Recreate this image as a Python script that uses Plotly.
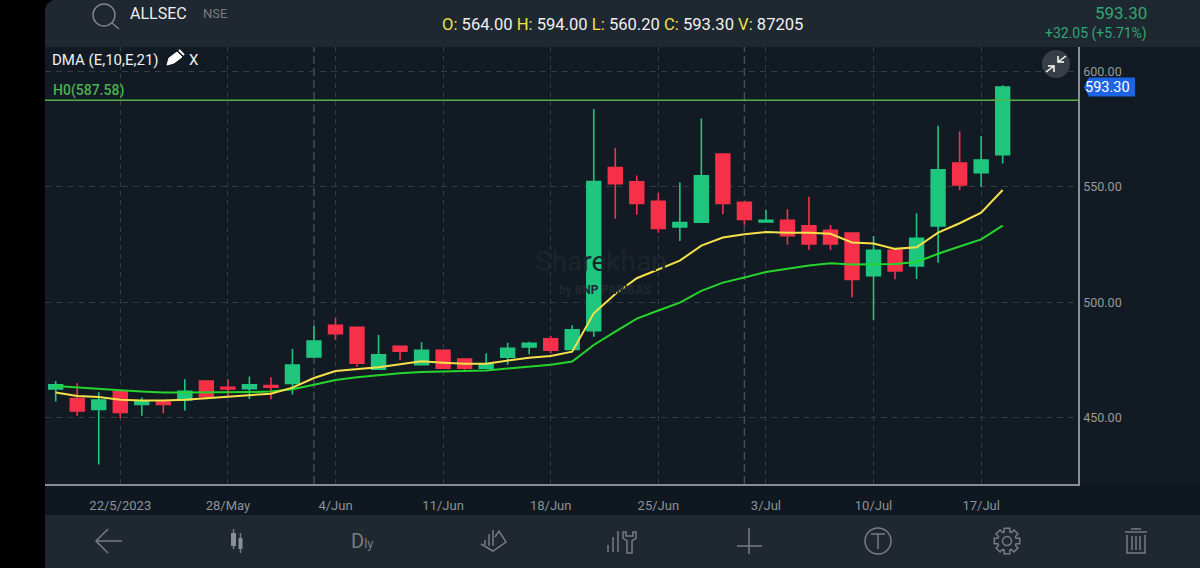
import math
import plotly.graph_objects as go

# ---------- data ----------
sessions = list(range(45))
opens = [462.6,458.4,453.7,461.3,455.8,456.9,457.8,466.0,463.3,462.7,464.0,464.9,476.4,490.1,489.2,471.1,481.0,473.0,479.3,475.5,
         471.5,476.3,480.7,484.3,479.6,487.8,558.4,552.2,543.8,532.7,534.7,564.3,543.4,534.9,535.6,533.2,531.2,530.1,511.6,522.6,
         515.8,533.1,560.4,556.2,564.0]
highs = [466.0,465.0,461.1,461.6,458.8,457.8,466.7,466.0,466.7,467.9,467.6,479.9,489.8,493.4,489.2,485.9,481.0,482.8,479.3,475.5,
         478.0,482.6,483.0,485.5,490.1,583.8,567.0,555.0,547.4,551.9,579.6,564.3,543.4,540.0,540.3,545.8,533.5,530.3,528.8,523.4,
         538.6,576.5,574.0,572.1,594.0]
lows = [457.1,451.0,429.8,449.9,451.0,452.0,453.2,458.1,459.2,458.2,458.1,460.2,476.0,483.9,472.2,471.1,475.0,473.0,471.5,470.5,
        471.5,473.0,477.6,478.0,479.6,485.2,536.2,538.0,530.2,526.6,534.7,538.2,533.6,534.9,525.0,522.7,522.7,502.2,492.4,510.0,
        510.2,517.2,548.6,550.1,560.2]
closes = [464.3,453.0,457.8,452.4,457.1,455.8,461.5,459.2,462.6,464.4,463.3,472.9,483.3,486.5,473.7,477.3,478.9,479.3,471.5,471.5,
          473.2,480.2,482.3,479.3,488.2,552.3,551.4,542.9,532.0,534.6,554.8,542.9,535.9,535.6,528.9,525.3,525.3,510.0,522.6,513.6,
          527.8,557.4,550.9,561.7,593.3]
ema_10 = [461.0,459.5,459.1,457.9,457.6,457.5,457.9,458.5,459.2,460.0,460.5,463.1,467.3,470.3,471.1,471.9,473.2,474.5,473.9,473.5,
          473.5,474.8,476.1,476.8,478.7,495.3,503.7,510.5,514.4,518.1,524.6,528.1,529.5,530.5,530.2,530.2,529.7,526.0,525.5,523.2,
          523.9,530.2,534.3,538.9,548.7]
ema_21 = [463.8,463.1,462.5,462.0,461.5,461.0,461.0,461.0,461.1,461.2,461.4,462.4,464.4,466.4,467.6,468.5,469.3,469.9,470.2,470.2,
          470.5,471.4,472.2,473.0,474.4,481.6,487.4,493.0,496.5,499.9,505.0,508.6,510.8,513.2,514.6,516.0,517.0,516.4,516.5,516.7,
          517.5,521.1,524.2,527.3,533.3]
date_ticks = [3, 8, 13, 18, 23, 28, 33, 38, 43]
date_labels = ["22/5/2023", "28/May", "4/Jun", "11/Jun", "18/Jun", "25/Jun", "3/Jul", "10/Jul", "17/Jul"]
month_starts = [12, 32]
price_ticks = [450, 500, 550, 600]
price_labels = ["450.00", "500.00", "550.00", "600.00"]
h0_level = 587.58
last_price = 593.30

# ---------- page geometry and colours ----------
W, H = 1200, 568
L, R, T, B = 45, 1078, 47, 484
BG = "#121b24"
BAR = "#1f2730"
GREY = "#8c9298"
ICON = "#767c83"
FONT = "Roboto"


def px(x):
    return (x - L) / (R - L)


def py(y):
    return (B - y) / (B - T)


def path(points, close=False):
    s = "M" + " L".join(f"{px(a):.5f},{py(b):.5f}" for a, b in points)
    return s + (" Z" if close else "")


shapes = []


def rect(x0, y0, x1, y1, fill, layer="below"):
    shapes.append(dict(type="rect", xref="paper", yref="paper", x0=px(x0), x1=px(x1), y0=py(y0), y1=py(y1),
                       fillcolor=fill, line=dict(width=0), layer=layer))


def poly(points, color=ICON, width=1.5, fill=None, close=False):
    shapes.append(dict(type="path", xref="paper", yref="paper", path=path(points, close),
                       line=dict(color=color, width=width), fillcolor=fill or "rgba(0,0,0,0)", layer="above"))


def circle(cx, cy, r, color=ICON, width=1.5, fill=None):
    shapes.append(dict(type="circle", xref="paper", yref="paper", x0=px(cx - r), x1=px(cx + r), y0=py(cy + r), y1=py(cy - r),
                       line=dict(color=color, width=width), fillcolor=fill or "rgba(0,0,0,0)", layer="above"))


# window chrome
rect(0, 0, L, H, "#000000", "above")
rect(L, 0, W, T, BAR, "above")
rect(R, T, W, 515, BG)
rect(L, 484, W, 515, "#0f1820", "below")
rect(L, 515, W, H, BAR, "above")
poly([(45, 0), (45, 9), (47, 4), (53, 0)], color="#000000", width=0, fill="#000000", close=True)

# month-start separators
for m in month_starts:
    shapes.append(dict(type="line", xref="x", yref="paper", x0=m, x1=m, y0=0, y1=1, layer="below",
                       line=dict(color="#454d53", width=1.5, dash="8px,4px")))
# horizontal level
shapes.append(dict(type="line", xref="paper", yref="y", x0=0, x1=1, y0=h0_level, y1=h0_level, layer="above",
                   line=dict(color="#55b04c", width=1.5)))
# last-price tag
tag_y = 87
poly([(1084, tag_y), (1089, tag_y - 9.5), (1135, tag_y - 9.5), (1135, tag_y + 9.5), (1089, tag_y + 9.5)],
     color="#1c64e4", width=0, fill="#1c64e4", close=True)

# search icon
circle(104, 15, 11, color="#7c8288")
poly([(112, 23), (119, 29)], color="#7c8288")
# pencil
poly([(167, 65), (169, 58), (177, 52), (182, 57), (174, 63)], color="#ffffff", width=1, fill="#ffffff", close=True)
poly([(179, 50), (184, 55)], color="#ffffff", width=2)
# collapse button
circle(1056, 64, 14, color="#383e45", width=0, fill="#383e45")
for pts in ([(1066, 56), (1058, 62)], [(1058, 56), (1058, 62), (1064, 62)],
            [(1046, 72), (1054, 66)], [(1048, 66), (1054, 66), (1054, 72)]):
    poly(pts, color="#ffffff", width=1.5)

# toolbar icons
poly([(122, 541), (96, 541)])
poly([(108, 529), (96, 541), (108, 553)])
poly([(233.5, 529), (233.5, 549)], width=1.5)
rect(231, 533, 236, 546, "#8a8f94", "above")
poly([(240.5, 533), (240.5, 553)], width=1.5)
rect(238.5, 538, 242.5, 549, "#8a8f94", "above")
# hand / chart icon
poly([(481, 544), (493, 551), (506, 542), (499, 531), (495, 537)])
for x, a, b in ((485, 540, 545), (489, 534, 546), (493, 530, 546)):
    poly([(x, a), (x, b)])
# bars and wrench
for x, a in ((608, 545), (613, 537), (618, 531)):
    poly([(x, a), (x, 552)])
poly([(623, 532), (623, 538), (627, 541), (627, 553), (632, 553), (632, 541), (636, 538), (636, 532), (633, 532), (633, 536), (626, 536), (626, 532)],
     close=True)
# plus
poly([(749, 528), (749, 554)])
poly([(737, 546), (762, 546)])
# T circle
circle(878, 541, 13)
poly([(871, 534), (885, 534)])
poly([(878, 534), (878, 549)])
# gear
gear = []
for i in range(8):
    a = i * math.pi / 4
    for da, r in ((-0.30, 9.5), (-0.22, 13), (0.22, 13), (0.30, 9.5)):
        gear.append((1007 + r * math.cos(a + da), 541 + r * math.sin(a + da)))
poly(gear, close=True)
circle(1007, 541, 4.5)
# trash
poly([(1125, 532), (1147, 532)])
poly([(1131, 529), (1141, 529)])
poly([(1127, 535), (1127, 553), (1145, 553), (1145, 535)])
for x in (1132, 1136, 1140):
    poly([(x, 536), (x, 550)])


def text(x, y, s, size, color, anchor="left", weight=None):
    d = dict(xref="paper", yref="paper", x=px(x), y=py(y), text=s, showarrow=False, xanchor=anchor, yanchor="middle",
             font=dict(family=FONT, size=size, color=color), align=anchor)
    if weight:
        d["font"]["weight"] = weight
    return d


YEL, WHT = "#f2e24c", "#f0f0f0"
ohlc_txt = (f"<span style='color:{YEL}'>O:</span> 564.00 <span style='color:{YEL}'>H:</span> 594.00 "
            f"<span style='color:{YEL}'>L:</span> 560.20 <span style='color:{YEL}'>C:</span> 593.30 "
            f"<span style='color:{YEL}'>V:</span> 87205")
annotations = [
    text(128, 13, "ALLSEC", 16, "#eeeeee"),
    text(201, 14, "NSE", 13, "#767c83"),
    text(622, 25, ohlc_txt, 16.6, WHT, "center"),
    text(1149, 13, "593.30", 17, "#2fa873", "right"),
    text(1149, 34, "+32.05 (+5.71%)", 14, "#2fa873", "right"),
    text(50, 60, "DMA (E,10,E,21)", 15, WHT),
    text(187, 60, "X", 15, WHT),
    text(51, 90, "H0(587.58)", 14, "#4caf50", weight=500),
    text(1107, 87, f"{last_price:.2f}", 14.5, "#ffffff", "center"),
    text(601, 261, "Sharekhan", 28, "#1c252e", "center"),
    text(605, 290, "by BNP PARIBAS", 12, "#1f2831", "center", 700),
    text(362, 541, "D<span style='font-size:13px'>ly</span>", 20, ICON, "center"),
]

fig = go.Figure()
fig.add_trace(go.Candlestick(
    x=sessions, open=opens, high=highs, low=lows, close=closes, whiskerwidth=0, hoverinfo="skip",
    increasing=dict(line=dict(color="#1fc67e", width=1.6), fillcolor="#1fc67e"),
    decreasing=dict(line=dict(color="#f7304a", width=1.6), fillcolor="#f7304a"),
))
fig.add_trace(go.Scatter(x=sessions, y=ema_21, mode="lines", line=dict(color="#25d52d", width=2), hoverinfo="skip"))
fig.add_trace(go.Scatter(x=sessions, y=ema_10, mode="lines", line=dict(color="#f6e14a", width=2), hoverinfo="skip"))

fig.update_layout(
    width=W, height=H, autosize=False, showlegend=False, boxgap=0.36, boxgroupgap=0,
    margin=dict(l=L, r=W - R, t=T, b=H - B, pad=0, autoexpand=False),
    paper_bgcolor=BG, plot_bgcolor=BG, font=dict(family=FONT, color=GREY),
    shapes=shapes, annotations=annotations,
    xaxis=dict(range=[-0.497, 47.5], tickmode="array", tickvals=date_ticks, ticktext=date_labels,
               rangeslider=dict(visible=False), showgrid=True, gridcolor="#343c43", griddash="5px,4px", gridwidth=1,
               zeroline=False, showline=True, linecolor="#8a8f94", linewidth=1.5, ticks="outside", ticklen=9,
               tickcolor="rgba(0,0,0,0)", tickfont=dict(family=FONT, size=13, color=GREY)),
    yaxis=dict(range=[421.4, 610.6], side="right", tickmode="array", tickvals=price_ticks, ticktext=price_labels,
               showgrid=True, gridcolor="#343c43", griddash="6px,5px", gridwidth=1, zeroline=False,
               showline=True, linecolor="#8a8f94", linewidth=1.5, ticks="outside", ticklen=1, tickcolor="rgba(0,0,0,0)",
               tickfont=dict(family=FONT, size=12.5, color="#989a9c")),
)

fig.write_html("out.html", config={"displayModeBar": False},
               post_script="document.body.style.margin='0';document.body.style.background='#000';")
